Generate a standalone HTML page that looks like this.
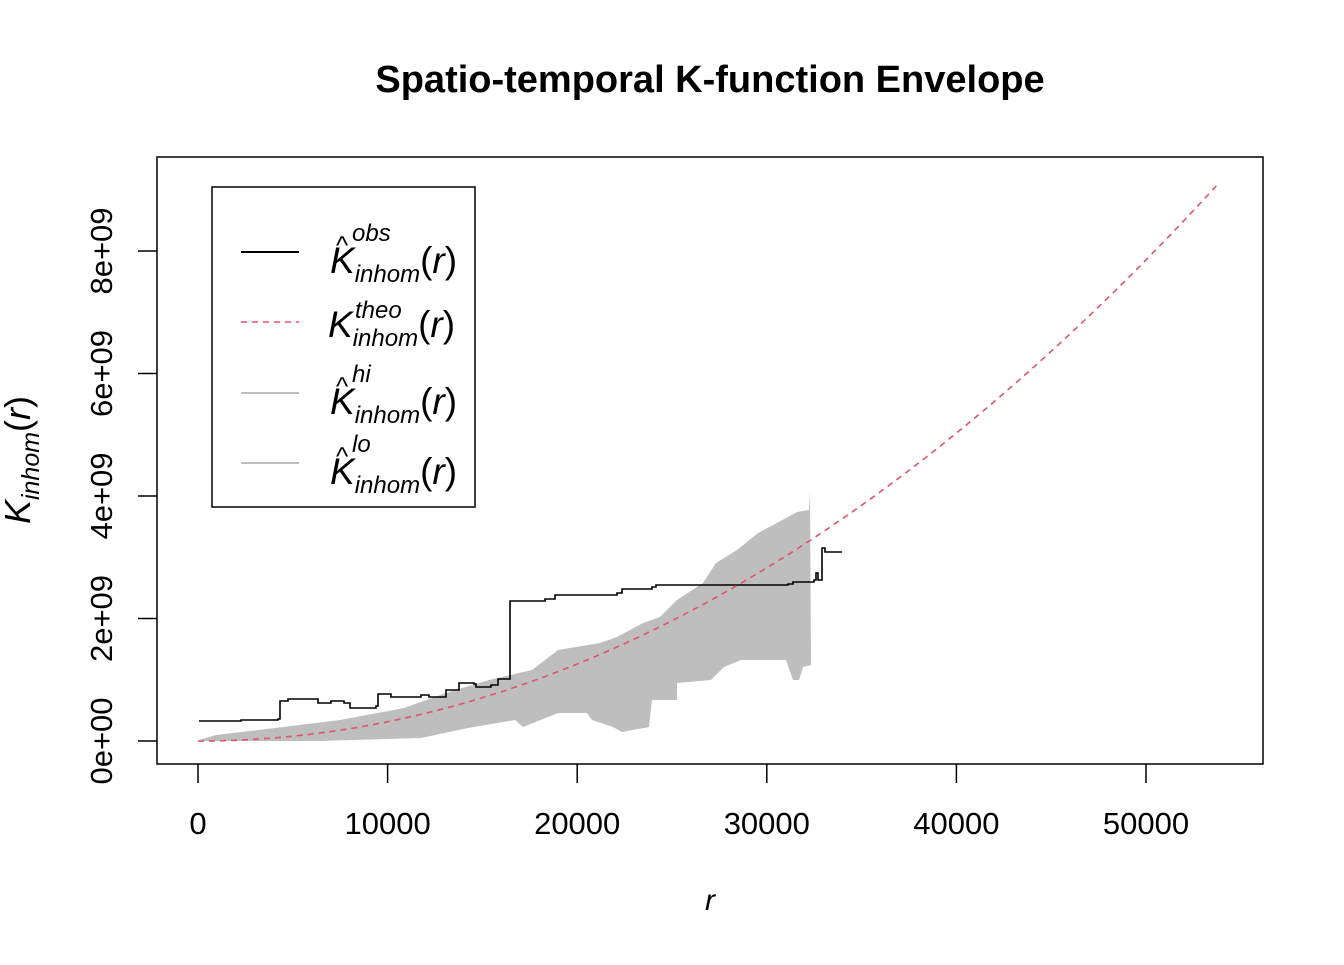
<!DOCTYPE html>
<html><head><meta charset="utf-8"><style>
body{margin:0;background:#fff}
text{font-family:"Liberation Sans",sans-serif}
.m{font-style:italic}
</style></head><body>
<svg width="1344" height="960" xmlns="http://www.w3.org/2000/svg">
<rect width="1344" height="960" fill="#fff"/>
<text x="710" y="92" font-size="38" font-weight="bold" text-anchor="middle">Spatio-temporal K-function Envelope</text>
<polygon fill="#bebebe" points="199,740 216,735 275,728 340,720 404,708 446,693 489,680 532,670 558,650 600,643 617,637 643,623 660,617 677,600 703,583 716,563 737,550 758,533 788,517 797,512 809,510 810,492 811,665 803,667 799,680 793,680 786,660 741,660 724,667 711,680 677,683 677,700 652,700 649,727 622,732 613,727 592,720 587,713 558,713 523,727 515,720 468,728 421,738 318,741 199,741"/>
<path id="obs" fill="none" stroke="#000" stroke-width="1.6" d=""/>
<path id="th" fill="none" stroke="#df536b" stroke-width="1.6" stroke-dasharray="6,5" d=""/>
<rect x="157" y="157" width="1106" height="607" fill="none" stroke="#000" stroke-width="1.5"/>
<g stroke="#000" stroke-width="1.5">
<line x1="198" y1="764" x2="198" y2="783"/><line x1="387.6" y1="764" x2="387.6" y2="783"/><line x1="577.2" y1="764" x2="577.2" y2="783"/><line x1="766.8" y1="764" x2="766.8" y2="783"/><line x1="956.4" y1="764" x2="956.4" y2="783"/><line x1="1146" y1="764" x2="1146" y2="783"/>
<line x1="157" y1="741" x2="138" y2="741"/><line x1="157" y1="618.5" x2="138" y2="618.5"/><line x1="157" y1="496" x2="138" y2="496"/><line x1="157" y1="373.5" x2="138" y2="373.5"/><line x1="157" y1="251" x2="138" y2="251"/>
</g>
<g font-size="31" text-anchor="middle">
<text x="198" y="834">0</text><text x="387.6" y="834">10000</text><text x="577.2" y="834">20000</text><text x="766.8" y="834">30000</text><text x="956.4" y="834">40000</text><text x="1146" y="834">50000</text>
<text transform="translate(112,741) rotate(-90)">0e+00</text>
<text transform="translate(112,618.5) rotate(-90)">2e+09</text>
<text transform="translate(112,496) rotate(-90)">4e+09</text>
<text transform="translate(112,373.5) rotate(-90)">6e+09</text>
<text transform="translate(112,251) rotate(-90)">8e+09</text>
</g>
<text x="710" y="910" font-size="30" class="m" text-anchor="middle">r</text>
<text transform="translate(30,460) rotate(-90)" font-size="36" text-anchor="middle"><tspan class="m">K</tspan><tspan class="m" font-size="25" dy="9">inhom</tspan><tspan dy="-9">(</tspan><tspan class="m">r</tspan><tspan>)</tspan></text>
<rect x="212" y="187" width="263" height="320" fill="#fff" stroke="#000" stroke-width="1.5"/>
<line x1="241" y1="252" x2="299" y2="252" stroke="#000" stroke-width="2"/>
<line x1="241" y1="322" x2="299" y2="322" stroke="#df536b" stroke-width="1.6" stroke-dasharray="6,5"/>
<line x1="241" y1="393" x2="299" y2="393" stroke="#bebebe" stroke-width="2"/>
<line x1="241" y1="463" x2="299" y2="463" stroke="#bebebe" stroke-width="2"/>
<g font-size="37">
<text x="330" y="273"><tspan class="m">K</tspan><tspan class="m" font-size="24" dy="9">inhom</tspan><tspan dy="-9">(</tspan><tspan class="m">r</tspan>)</text>
<text x="336" y="254" font-size="26">^</text><text x="352" y="241" font-size="24" class="m">obs</text>
<text x="328" y="337"><tspan class="m">K</tspan><tspan class="m" font-size="24" dy="9">inhom</tspan><tspan dy="-9">(</tspan><tspan class="m">r</tspan>)</text>
<text x="355" y="318" font-size="24" class="m">theo</text>
<text x="330" y="414"><tspan class="m">K</tspan><tspan class="m" font-size="24" dy="9">inhom</tspan><tspan dy="-9">(</tspan><tspan class="m">r</tspan>)</text>
<text x="336" y="395" font-size="26">^</text><text x="352" y="382" font-size="24" class="m">hi</text>
<text x="330" y="484"><tspan class="m">K</tspan><tspan class="m" font-size="24" dy="9">inhom</tspan><tspan dy="-9">(</tspan><tspan class="m">r</tspan>)</text>
<text x="336" y="465" font-size="26">^</text><text x="352" y="452" font-size="24" class="m">lo</text>
</g>
</svg>
<script>
function steps(p){var d="M"+p[0][0]+","+p[0][1];for(var i=1;i<p.length;i++){d+="H"+p[i][0]+"V"+p[i][1];}return d;}
var obs=[[199,721],[241,720],[278,719],[280,701],[288,699],[314,699],[318,703],[331,701],[344,703],[350,708],[376,706],[378,694],[391,697],[421,695],[429,697],[446,690],[459,683],[474,684],[476,687],[491,685],[498,679],[508,679],[510,601],[545,599],[555,595],[617,593],[622,589],[652,587],[656,585],[788,584],[793,582],[814,580],[816,573],[818,580],[822,548],[825,552],[842,552]];
document.getElementById("obs").setAttribute("d",steps(obs));
var t="";for(var k=0;k<=120;k++){var r=53800*k/120;var x=198+r*0.01896;var y=741-Math.PI*r*r*61.25e-9;t+=(k?"L":"M")+x.toFixed(1)+","+y.toFixed(1);}
document.getElementById("th").setAttribute("d",t);
</script>
</body></html>
